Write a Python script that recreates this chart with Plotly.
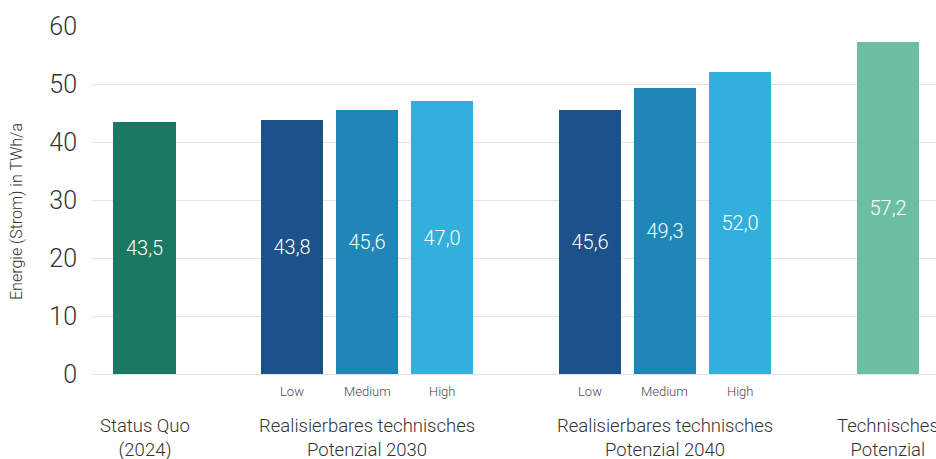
import plotly.graph_objects as go

# ---- data ----
groups = ["Status Quo<br>(2024)",
          "Realisierbares technisches<br>Potenzial 2030",
          "Realisierbares technisches<br>Potenzial 2040",
          "Technisches<br>Potenzial"]
group_scenarios = [[""], ["Low", "Medium", "High"], ["Low", "Medium", "High"], [""]]
group_values = [[43.5], [43.8, 45.6, 47.0], [45.6, 49.3, 52.0], [57.2]]
group_colors = [["#197a61"],
                ["#1d5189", "#1f87b7", "#32afdb"],
                ["#1d5189", "#1f87b7", "#32afdb"],
                ["#6cbfa2"]]
y_title = "Energie (Strom) in TWh/a"
y_ticks = [0, 10, 20, 30, 40, 50, 60]

FONT = "Roboto"
TXT = "#333333"
GAP = 1.97  # distance between last bar of a group and first bar of the next

W, H = 936, 459
L, T, B = 92, 26, 85
PH = H - T - B


def py(ypix):
    """pixel row -> paper y"""
    return (H - B - ypix) / PH


def px(xpix):
    return (xpix - L) / (W - L)


fig = go.Figure()
annotations = []
pos = 0.0
for gi, (gname, scen, vals, cols) in enumerate(zip(groups, group_scenarios, group_values, group_colors)):
    xs = []
    for i in range(len(vals)):
        xs.append(pos)
        pos += 1
    pos += GAP - 1
    fig.add_trace(go.Bar(
        x=xs, y=vals, marker=dict(color=cols, line=dict(width=0)),
        width=0.827,
        text=[f"{v:.1f}".replace(".", ",") for v in vals],
        textposition="inside", insidetextanchor="middle", textangle=0,
        textfont=dict(color="white", size=20, family=FONT, weight=300),
        showlegend=False, hoverinfo="skip",
    ))
    for x, s in zip(xs, scen):
        if s:
            annotations.append(dict(x=x, y=py(391), xref="x", yref="paper", text=s,
                                    showarrow=False, yanchor="middle",
                                    font=dict(size=13, color="#4a4a4a", family=FONT, weight=300)))
    center = sum(xs) / len(xs)
    annotations.append(dict(x=center, y=py(438), xref="x", yref="paper", text=gname,
                            showarrow=False, yanchor="middle",
                            font=dict(size=18.5, color=TXT, family=FONT, weight=300),
                            align="center"))

annotations.append(dict(x=px(16), y=py(212), xref="paper", yref="paper", text=y_title,
                        textangle=-90, showarrow=False, xanchor="center", yanchor="middle",
                        font=dict(size=16, color=TXT, family=FONT, weight=300)))

fig.update_layout(
    width=W, height=H,
    margin=dict(l=L, r=0, t=T, b=B, autoexpand=False),
    paper_bgcolor="white", plot_bgcolor="white",
    bargap=0,
    font=dict(family=FONT, color=TXT),
    xaxis=dict(range=[-0.7, 10.554], showticklabels=False, showgrid=False,
               zeroline=False, showline=False, ticks=""),
    yaxis=dict(range=[0, 60], tickvals=y_ticks, showgrid=True, gridcolor="#dde3ea",
               gridwidth=1, zeroline=True, zerolinecolor="#dde3ea", zerolinewidth=1,
               showline=False, ticks="", ticklabelstandoff=14,
               tickfont=dict(size=25, color=TXT, family=FONT, weight=300)),
    annotations=annotations,
)

fig.write_html("out.html", config={"displayModeBar": False},
               post_script="document.body.style.margin='0';document.body.style.overflow='hidden';")
